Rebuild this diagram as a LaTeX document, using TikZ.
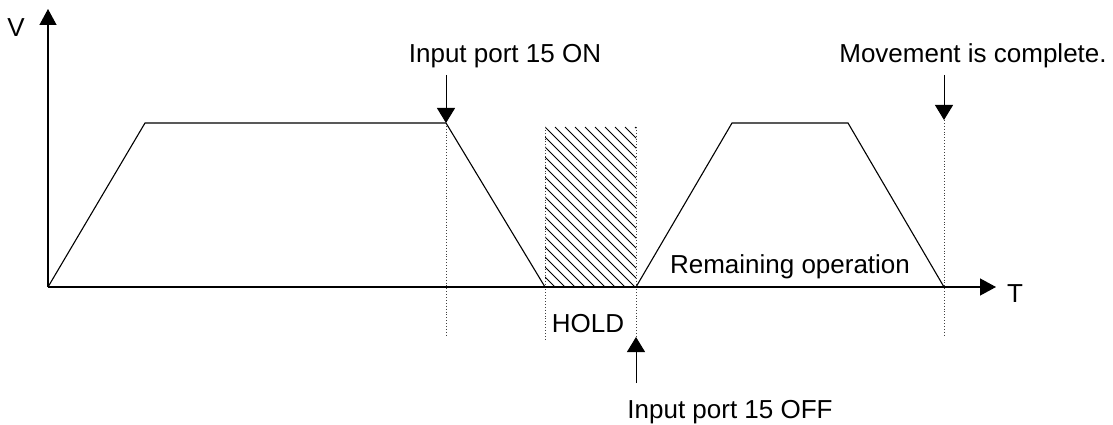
\documentclass[tikz,border=0pt]{standalone}
\usepackage{fontspec}
\setmainfont{Liberation Sans}
\usetikzlibrary{arrows.meta}
\tikzset{
  lbl/.style={font=\fontsize{26}{30}\selectfont, inner sep=0pt, anchor=base},
  prof/.style={line width=1.1pt, black},
  axis/.style={line width=1.3pt, black, -{Triangle[length=16pt,width=17pt]}},
  marker/.style={line width=1pt, black, -{Triangle[length=15pt,width=18pt]}},
  guide/.style={line width=0.9pt, black!75, dotted},
  hatch/.style={line width=0.8pt, black}
}
\begin{document}
\begin{tikzpicture}[x=1pt,y=-1pt]
\useasboundingbox (0,0) rectangle (1113,425);
% key points
\coordinate (O) at (48,287);
\coordinate (Ytip) at (48,9);
\coordinate (Xtip) at (996,287);
\coordinate (A1) at (145,123);
\coordinate (A2) at (446,123);
\coordinate (A3) at (545,287);
\coordinate (B0) at (636,287);
\coordinate (B1) at (732,123);
\coordinate (B2) at (848,123);
\coordinate (B3) at (944,287);
% hatched HOLD region
\begin{scope}
  \clip (545,127) rectangle (636,287);
  \foreach \s in {-170,-160,...,100}{
    \draw[hatch] (545+\s,127) -- (545+\s+170,297);
  }
\end{scope}
% guide lines
\coordinate (G1t) at (446,123); \coordinate (G1b) at (446,336);
\coordinate (G2t) at (545,127); \coordinate (G2b) at (545,341);
\coordinate (G3t) at (636,127); \coordinate (G3b) at (636,337);
\coordinate (G4t) at (944,120); \coordinate (G4b) at (944,336);
\draw[guide] (G1t) -- (G1b);
\draw[guide] (G2t) -- (G2b);
\draw[guide] (G3t) -- (G3b);
\draw[guide] (G4t) -- (G4b);
% axes
\draw[axis] (O) -- (Ytip);
\draw[axis] (O) -- (Xtip);
\node[lbl] (V) at (16,37) {V};
\node[lbl] (T) at (1015,302) {T};
% profile
\draw[prof] (O) -- (A1) -- (A2) -- (A3);
\draw[prof] (B0) -- (B1) -- (B2) -- (B3);
% labels and markers
\node[lbl] (on) at (505,63) {Input port 15 ON};
\coordinate (onS) at (446,75);
\draw[marker] (onS) -- (A2);
\node[lbl] (done) at (973,63) {Movement is complete.};
\coordinate (doneS) at (944,75);
\draw[marker] (doneS) -- (G4t);
\node[lbl] (hold) at (588,332) {HOLD};
\node[lbl] (rem) at (790,273) {Remaining operation};
\node[lbl] (off) at (730,418) {Input port 15 OFF};
\coordinate (offS) at (636,383);
\draw[marker] (offS) -- (G3b);
\end{tikzpicture}
\end{document}
